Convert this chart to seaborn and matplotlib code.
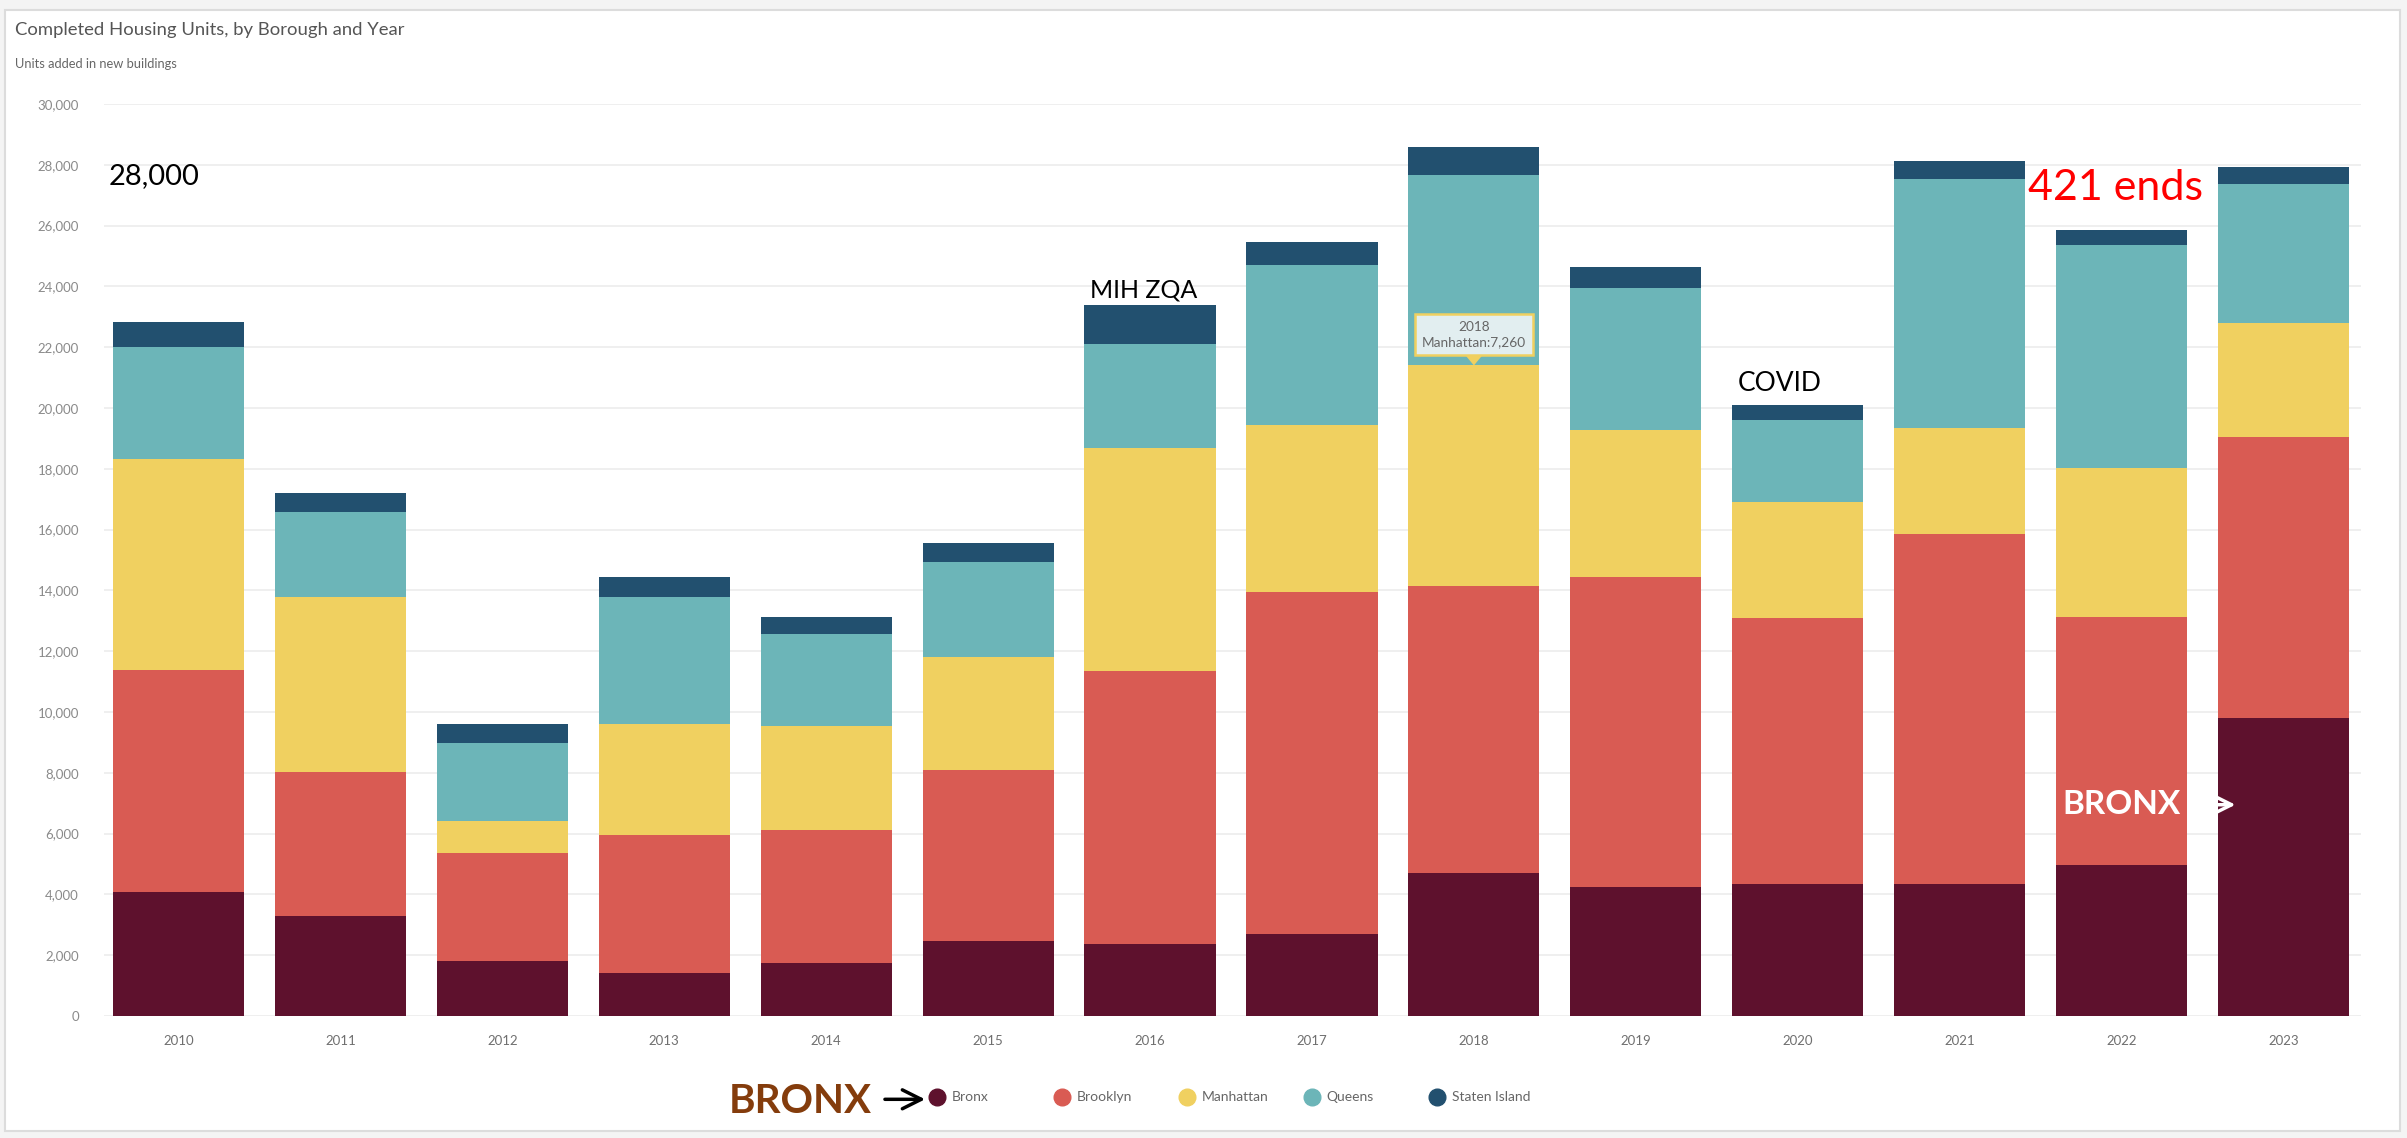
import matplotlib
matplotlib.use("Agg")
import matplotlib.pyplot as plt
from matplotlib.lines import Line2D
from matplotlib.patches import Rectangle, Polygon, FancyArrowPatch
import numpy as np
import pandas as pd
import seaborn as sns

# ---- data -------------------------------------------------------------
years = [2010, 2011, 2012, 2013, 2014, 2015, 2016, 2017, 2018, 2019, 2020, 2021, 2022, 2023]
boroughs = ["Bronx", "Brooklyn", "Manhattan", "Queens", "Staten Island"]
bronx = [4090, 3300, 1800, 1420, 1740, 2480, 2380, 2690, 4720, 4250, 4350, 4350, 4960, 9800]
brooklyn = [7300, 4730, 3550, 4540, 4370, 5600, 8980, 11250, 9420, 10190, 8730, 11510, 8170, 9240]
manhattan = [6920, 5760, 1060, 3640, 3440, 3740, 7330, 5500, 7260, 4850, 3840, 3480, 4900, 3740]
queens = [3710, 2780, 2580, 4190, 3030, 3130, 3430, 5260, 6280, 4650, 2680, 8190, 7320, 4590]
staten_island = [820, 650, 610, 650, 550, 610, 1260, 750, 910, 710, 500, 600, 510, 560]

colors = ["#5e112d", "#d95b53", "#f0d060", "#6cb5b8", "#22506f"]

tooltip_year = 2018
tooltip_borough = "Manhattan"

# ---- tidy frame with cumulative tops for stacking ---------------------
wide = pd.DataFrame(
    {"Year": years, "Bronx": bronx, "Brooklyn": brooklyn, "Manhattan": manhattan,
     "Queens": queens, "Staten Island": staten_island}
)
cum = wide[boroughs].cumsum(axis=1)
cum["Year"] = wide["Year"].astype(str)

sns.set_theme(style="white")
plt.rcParams["font.family"] = ["Lato", "DejaVu Sans"]

fig = plt.figure(figsize=(24.07, 11.38), dpi=100)
fig.patch.set_facecolor("#f4f4f4")
# white card behind the chart
fig.patches.append(Rectangle((0.002, 0.006), 0.995, 0.985, transform=fig.transFigure,
                             facecolor="white", edgecolor="#dcdcdc", linewidth=1.5,
                             zorder=-10))

ax = fig.add_axes([0.0432, 0.1072, 0.9378, 0.8014])
ax.set_facecolor("none")

# draw from the tallest cumulative layer down so each borough shows its own segment
for b, c in reversed(list(zip(boroughs, colors))):
    sns.barplot(data=cum, x="Year", y=b, color=c, width=0.81, saturation=1,
                linewidth=0, ax=ax, zorder=2)

ax.set_ylim(0, 30000)
ax.set_xlim(-0.46, len(years) - 0.52)
ax.set_yticks(np.arange(0, 30001, 2000))
ax.set_yticklabels([f"{v:,}" for v in range(0, 30001, 2000)])
ax.yaxis.grid(True, color="#ececec", linewidth=1.2, zorder=0)
ax.set_axisbelow(True)
ax.xaxis.grid(False)
for s in ax.spines.values():
    s.set_visible(False)
ax.set_xlabel("")
ax.set_ylabel("")
ax.tick_params(axis="y", length=0, pad=18, labelsize=9.5, labelcolor="#8a8a8a")
ax.tick_params(axis="x", length=0, pad=14, labelsize=9.5, labelcolor="#6f6f6f")

# ---- titles -----------------------------------------------------------
fig.text(0.0062, 0.974, "Completed Housing Units, by Borough and Year",
         fontsize=13.3, color="#555555", va="center", ha="left")
fig.text(0.0062, 0.944, "Units added in new buildings",
         fontsize=9.3, color="#666666", va="center", ha="left")

# ---- annotations ------------------------------------------------------
ax.text(-0.43, 27640, "28,000", fontsize=21, color="black", va="center", ha="left")
ax.text(5.96, 23500, "MIH ZQA", fontsize=18, color="black", va="bottom", ha="center")
ax.text(9.89, 20400, "COVID", fontsize=19, color="black", va="bottom", ha="center")
ax.text(11.96, 27230, "421 ends", fontsize=31, color="red", va="center", ha="center")
ax.text(12.0, 6950, "BRONX", fontsize=24, color="white", fontweight="bold",
        va="center", ha="center", zorder=5)
ax.annotate("", xy=(12.72, 6950), xytext=(12.53, 6950),
            arrowprops=dict(arrowstyle="->", color="white", lw=2.5, mutation_scale=32),
            zorder=5)

# tooltip on the 2018 Manhattan segment
ti = years.index(tooltip_year)
tip_y = cum.loc[ti, tooltip_borough]
tip_val = wide.loc[ti, tooltip_borough]
ax.text(ti, tip_y + 1020, f"{tooltip_year}\n{tooltip_borough}:{tip_val:,}",
        fontsize=9.8, color="#666666", ha="center", va="center", linespacing=1.35,
        bbox=dict(boxstyle="square,pad=0.5", facecolor="#e2eef0", edgecolor="#f0d060",
                  linewidth=1.8), zorder=6)
ax.add_patch(Polygon([[ti - 0.05, tip_y + 320], [ti + 0.05, tip_y + 320], [ti, tip_y]],
                     closed=True, facecolor="#f0d060", edgecolor="none", zorder=7))

# ---- legend: evenly spaced swatches -----------------------------------
legend_y = 0.036
legend_x0, legend_step = 0.3891, 0.05195
for i, (b, c) in enumerate(zip(boroughs, colors)):
    x = legend_x0 + i * legend_step
    fig.add_artist(Line2D([x], [legend_y], marker="o", linestyle="", markersize=12,
                          markerfacecolor=c, markeredgecolor=c,
                          transform=fig.transFigure))
    fig.text(x + 0.0062, legend_y, b, fontsize=10, color="#666666",
             va="center", ha="left")

fig.text(0.3027, 0.032, "BRONX", fontsize=29, color="#843c0c", fontweight="bold",
         va="center", ha="left")
fig.add_artist(FancyArrowPatch(
    (0.3665, 0.034), (0.3855, 0.034), transform=fig.transFigure,
    arrowstyle="->", color="black", lw=2.5, mutation_scale=34))

fig.savefig("out.png", dpi=100, facecolor=fig.get_facecolor())
